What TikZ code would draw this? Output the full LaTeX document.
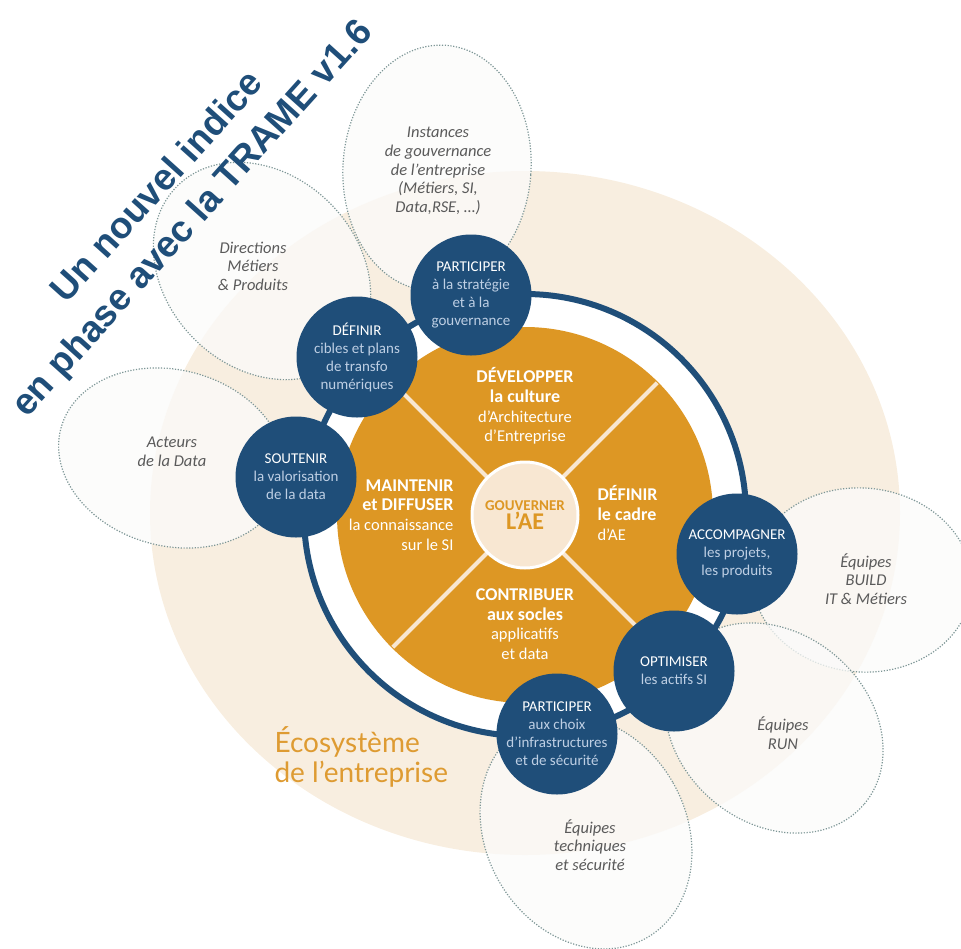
\documentclass[tikz,border=0pt]{standalone}
\usepackage{fontspec}
\setmainfont{Carlito}
\newfontfamily\titlefont{Liberation Sans}
\newfontfamily\ecofont{Lato}
\usetikzlibrary{positioning}
\definecolor{aeblue}{RGB}{31,78,121}
\definecolor{aelight}{RGB}{190,207,228}
\definecolor{aeorange}{RGB}{221,151,36}
\definecolor{aecream}{RGB}{248,231,210}
\definecolor{ecobeige}{RGB}{248,238,224}
\definecolor{ecotext}{RGB}{222,155,50}
\definecolor{dotgray}{RGB}{125,150,150}
\definecolor{labgray}{RGB}{90,90,90}
\definecolor{ellfill}{RGB}{251,251,250}
\newcommand{\lite}[1]{\textcolor{aelight}{#1}}
\newcommand{\hd}[1]{{\bfseries\fontsize{18}{19.7}\selectfont #1}}
\tikzset{
  action/.style={circle, fill=aeblue, minimum size=121pt, inner sep=0pt,
    align=center, text=white, font=\fontsize{15}{18}\selectfont},
  actor/.style={draw=dotgray, line width=1.2pt, dash pattern=on 1.2pt off 1.6pt,
    fill=ellfill, fill opacity=0.75},
  actortext/.style={align=center, text=labgray, font=\itshape\fontsize{16.5}{18.6}\selectfont},
  sector/.style={text=white, font=\fontsize{16.5}{19.7}\selectfont},
  divider/.style={draw=aecream, line width=4pt}
}

\begin{document}
\begin{tikzpicture}[x=1pt,y=1pt]
  \useasboundingbox (0,0) rectangle (961,-948);
  \coordinate (hub) at (525,-515);
  % ecosysteme
  \fill[ecobeige] (525,-513) ellipse [x radius=375, y radius=342];
  % acteurs autour
  \foreach \cx/\cy/\rx/\ry/\ang in {437/168/94/123/-4, 262/271/120/96/-45,
      172/458/115/88/-15, 862/580/110/92/-5, 774/728/118/95/-40, 586/832/100/122/30}
    \draw[actor, rotate around={\ang:(\cx,-\cy)}] (\cx,-\cy) ellipse [x radius=\rx, y radius=\ry];
  % anneau
  \fill[white] (hub) circle [radius=221];
  \draw[aeblue, line width=6pt] (hub) circle [radius=221];
  \fill[aeorange] (hub) circle [radius=188];
  \foreach \a in {45,135,225,315}
    \draw[divider] (hub) -- ++(\a:187);
  \node[circle, fill=aecream, draw=white, line width=3pt, minimum size=106pt,
    inner sep=0pt, align=center, text=aeorange, font=\bfseries] (gouv) at (hub)
    {{\fontsize{15}{15}\selectfont GOUVERNER}\\[1pt]{\fontsize{24}{24}\selectfont L’AE}};
  % secteurs
  \node[sector, align=center] (devCulture) at (525,-406)
    {\hd{DÉVELOPPER}\\\hd{la culture}\\d’Architecture\\d’Entreprise};
  \node[sector, align=left, anchor=west] (defCadre) at (594,-513)
    {\hd{DÉFINIR}\\\hd{le cadre}\\d’AE};
  \node[sector, align=right, anchor=east] (maintDiff) at (457,-515)
    {\hd{MAINTENIR}\\\hd{et DIFFUSER}\\la connaissance\\sur le SI};
  \node[sector, align=center] (contSocles) at (525,-624)
    {\hd{CONTRIBUER}\\\hd{aux socles}\\applicatifs\\et data};
  % actions
  \node[action] (partStrat) at (471,-295) {PARTICIPER\\\lite{à la stratégie}\\\lite{et à la}\\\lite{gouvernance}};
  \node[action] (defCibles) at (357,-357) {DÉFINIR\\\lite{cibles et plans}\\\lite{de transfo}\\\lite{numériques}};
  \node[action] (soutData) at (296,-477) {SOUTENIR\\\lite{la valorisation}\\\lite{de la data}};
  \node[action] (accProj) at (737,-554) {ACCOMPAGNER\\\lite{les projets,}\\\lite{les produits}};
  \node[action] (optActifs) at (674,-671) {OPTIMISER\\\lite{les actifs SI}};
  \node[action] (partInfra) at (557,-734) {PARTICIPER\\\lite{aux choix}\\\lite{d’infrastructures}\\\lite{et de sécurité}};
  % libelles des acteurs
  \node[actortext] (instances) at (438,-171) {Instances\\de gouvernance\\de l’entreprise\\(Métiers, SI,\\Data,RSE, …)};
  \node[actortext] (directions) at (253,-266) {Directions\\Métiers\\\& Produits};
  \node[actortext] (acteursData) at (172,-452) {Acteurs\\de la Data};
  \node[actortext] (eqBuild) at (866,-579) {Équipes\\BUILD\\IT \& Métiers};
  \node[actortext] (eqRun) at (783,-733) {Équipes\\RUN};
  \node[actortext] (eqTech) at (590,-845) {Équipes\\techniques\\et sécurité};
  \node[align=left, anchor=west, text=ecotext, font=\ecofont\fontsize{28}{30}\selectfont]
    (ecosys) at (271,-757) {Écosystème\\de l’entreprise};
  % titre
  \node[rotate=48, align=center, text=aeblue, font=\titlefont\bfseries\fontsize{37}{47}\selectfont]
    (titre) at (176,-204) {Un nouvel indice\\en phase avec la TRAME v1.6};
\end{tikzpicture}
\end{document}
